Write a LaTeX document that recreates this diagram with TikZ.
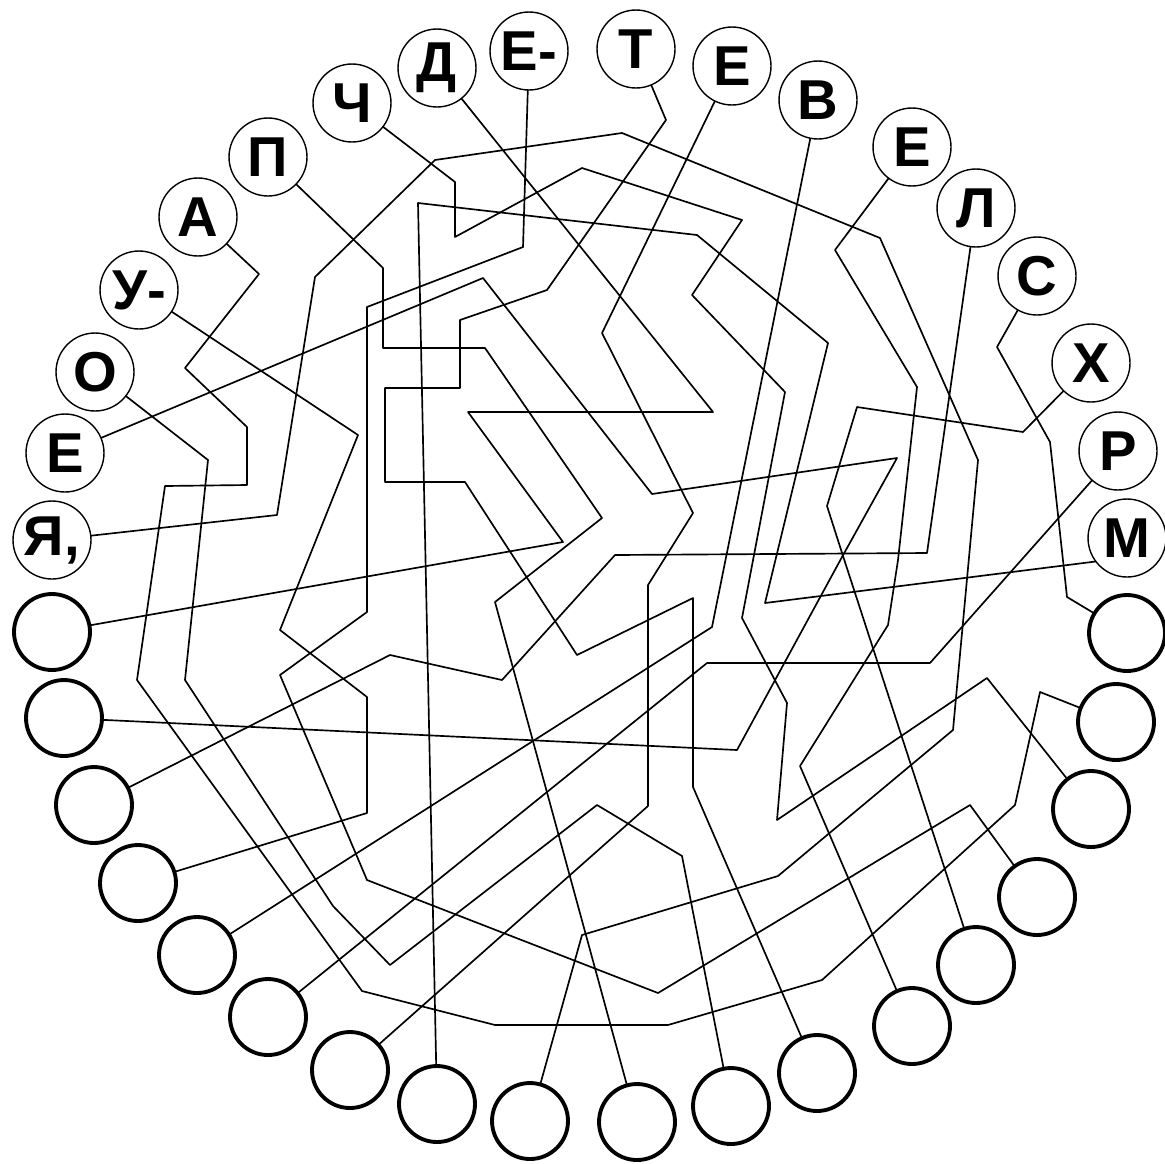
\documentclass[tikz,border=0pt]{standalone}
\usepackage{fontspec}
\setmainfont{Liberation Sans}
\tikzset{
  letter/.style={circle, draw=black, line width=0.8pt, minimum size=1.56cm,
    inner sep=0pt, outer sep=0pt, font=\fontsize{32}{32}\selectfont\bfseries},
  blank/.style={circle, draw=black, line width=2.2pt, minimum size=1.52cm,
    inner sep=0pt, outer sep=0pt},
  wire/.style={line width=0.95pt, line join=round, color=black}
}
\begin{document}
\begin{tikzpicture}[x=0.02cm, y=-0.02cm]
  \useasboundingbox (0,0) rectangle (1165,1163);

  % Letter circles
  \node[letter] (l1) at (52,540) {Я,};
  \node[letter] (l2) at (65,453) {Е};
  \node[letter] (l3) at (95,372) {О};
  \node[letter] (l4) at (139,290) {У-};
  \node[letter] (l5) at (198,217) {А};
  \node[letter] (l6) at (268,157) {П};
  \node[letter] (l7) at (352,103) {Ч};
  \node[letter] (l8) at (437,68) {Д};
  \node[letter] (l9) at (529,51) {Е-};
  \node[letter] (l10) at (636,49) {Т};
  \node[letter] (l11) at (732,66) {Е};
  \node[letter] (l12) at (818,100) {В};
  \node[letter] (l13) at (912,147) {Е};
  \node[letter] (l14) at (976,208) {Л};
  \node[letter] (l15) at (1037,276) {С};
  \node[letter] (l16) at (1091,363) {Х};
  \node[letter] (l17) at (1118,451) {Р};
  \node[letter] (l18) at (1127,538) {М};

  % Empty circles
  \node[blank] (c1) at (52,632) {};
  \node[blank] (c2) at (64,718) {};
  \node[blank] (c3) at (94,805) {};
  \node[blank] (c4) at (138,883) {};
  \node[blank] (c5) at (197,955) {};
  \node[blank] (c6) at (268,1017) {};
  \node[blank] (c7) at (350,1070) {};
  \node[blank] (c8) at (437,1104) {};
  \node[blank] (c9) at (530,1121) {};
  \node[blank] (c10) at (637,1122) {};
  \node[blank] (c11) at (731,1106) {};
  \node[blank] (c12) at (817,1073) {};
  \node[blank] (c13) at (912,1026) {};
  \node[blank] (c14) at (976,965) {};
  \node[blank] (c15) at (1037,897) {};
  \node[blank] (c16) at (1091,809) {};
  \node[blank] (c17) at (1116,722) {};
  \node[blank] (c18) at (1127,633) {};

  % Tangled wires
  \draw[wire] (l1) -- (277,515) -- (315,277) -- (435,160) -- (622,133) -- (880,238)
    -- (978,460) -- (953,730) -- (778,876) -- (582,935) -- (c9);
  \draw[wire] (l2) -- (483,278) -- (652,494) -- (897,458) -- (842,557) -- (737,750) -- (c2);
  \draw[wire] (l3) -- (208,460) -- (185,680) -- (333,906) -- (390,965) -- (597,805)
    -- (682,856) -- (c11);
  \draw[wire] (l4) -- (358,435) -- (280,630) -- (367,697) -- (367,813) -- (c4);
  \draw[wire] (l5) -- (259,274) -- (185,368) -- (247,427) -- (247,485) -- (165,486)
    -- (137,680) -- (362,991) -- (495,1025) -- (668,1025) -- (822,980) -- (1015,805)
    -- (1040,692) -- (c17);
  \draw[wire] (l6) -- (383,268) -- (383,348) -- (485,348) -- (602,518) -- (495,602) -- (c10);
  \draw[wire] (l7) -- (455,182) -- (455,237) -- (582,168) -- (742,220) -- (692,295)
    -- (785,392) -- (742,618) -- (787,703) -- (777,820) -- (987,678) -- (c16);
  \draw[wire] (l8) -- (713,412) -- (468,412) -- (563,542) -- (c1);
  \draw[wire] (l9) -- (523,247) -- (367,307) -- (367,612) -- (280,675) -- (367,880)
    -- (658,993) -- (970,805) -- (c15);
  \draw[wire] (l10) -- (666,120) -- (547,290) -- (460,320) -- (460,388) -- (385,388)
    -- (385,482) -- (465,482) -- (577,655) -- (693,598) -- (693,787) -- (c12);
  \draw[wire] (l11) -- (602,333) -- (693,513) -- (648,585) -- (648,806) -- (c7);
  \draw[wire] (l12) -- (712,627) -- (c5);
  \draw[wire] (l13) -- (835,250) -- (917,387) -- (898,560) -- (888,625) -- (800,766) -- (c13);
  \draw[wire] (l14) -- (927,553) -- (615,555) -- (502,680) -- (390,655) -- (c3);
  \draw[wire] (l15) -- (997,347) -- (1050,442) -- (1067,597) -- (c18);
  \draw[wire] (l16) -- (1023,432) -- (857,407) -- (827,506) -- (843,556) -- (c14);
  \draw[wire] (l17) -- (930,663) -- (707,663) -- (c6);
  \draw[wire] (l18.-143) -- (765,603) -- (828,343) -- (697,235) -- (418,203) -- (c8);
\end{tikzpicture}
\end{document}
